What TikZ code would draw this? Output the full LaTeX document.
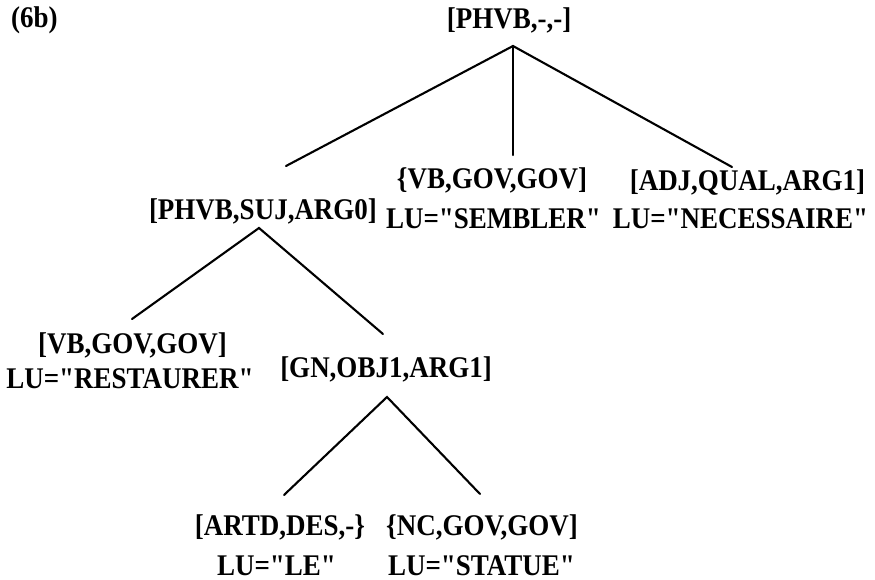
\documentclass[tikz,border=0pt]{standalone}
\usepackage{fontspec}
\newfontfamily\treefont{Liberation Serif}[UprightFont=*-Bold,FakeStretch=0.9]
\begin{document}
\begin{tikzpicture}[x=1pt,y=-1pt,
    lbl/.style={inner sep=0pt,anchor=base,font=\treefont\fontsize{30}{36}\selectfont},
    branch/.style={line width=2.1pt,line cap=round}]
\useasboundingbox (0,0) rectangle (875,580);

% example number
\node[lbl,anchor=base west] (num) at (11,28) {(6b)};

% root
\node[lbl] (root) at (509,29) {[PHVB,-,-]};

% first level
\node[lbl] (sujcat) at (263,219) {[PHVB,SUJ,ARG0]};
\node[lbl] (govcat) at (492,189) {\{VB,GOV,GOV]};
\node[lbl] (govlu)  at (493.5,228) {LU="SEMBLER"};
\node[lbl] (adjcat) at (747.5,191) {[ADJ,QUAL,ARG1]};
\node[lbl] (adjlu)  at (740.5,228) {LU="NECESSAIRE"};

% second level
\node[lbl] (vbcat) at (132.5,353) {[VB,GOV,GOV]};
\node[lbl] (vblu)  at (130,388) {LU="RESTAURER"};
\node[lbl] (gncat) at (386,377) {[GN,OBJ1,ARG1]};

% third level
\node[lbl] (artcat) at (280,535) {[ARTD,DES,-\}};
\node[lbl] (artlu)  at (276.5,575) {LU="LE"};
\node[lbl] (nccat)  at (482,535) {\{NC,GOV,GOV]};
\node[lbl] (nclu)   at (481.5,575) {LU="STATUE"};

% branch points
\coordinate (rootapex) at (513,46);
\coordinate (sujtop)   at (286,166);
\coordinate (govtop)   at (513,155);
\coordinate (adjtop)   at (732,167);
\coordinate (sujapex)  at (259,228);
\coordinate (vbtop)    at (132,319);
\coordinate (gntop)    at (383,334);
\coordinate (gnapex)   at (387,397);
\coordinate (arttop)   at (284,495);
\coordinate (nctop)    at (480,494);

% branches
\draw[branch] (sujtop) -- (rootapex) -- (adjtop);
\draw[branch] (rootapex) -- (govtop);
\draw[branch] (vbtop) -- (sujapex) -- (gntop);
\draw[branch] (arttop) -- (gnapex) -- (nctop);
\end{tikzpicture}
\end{document}
